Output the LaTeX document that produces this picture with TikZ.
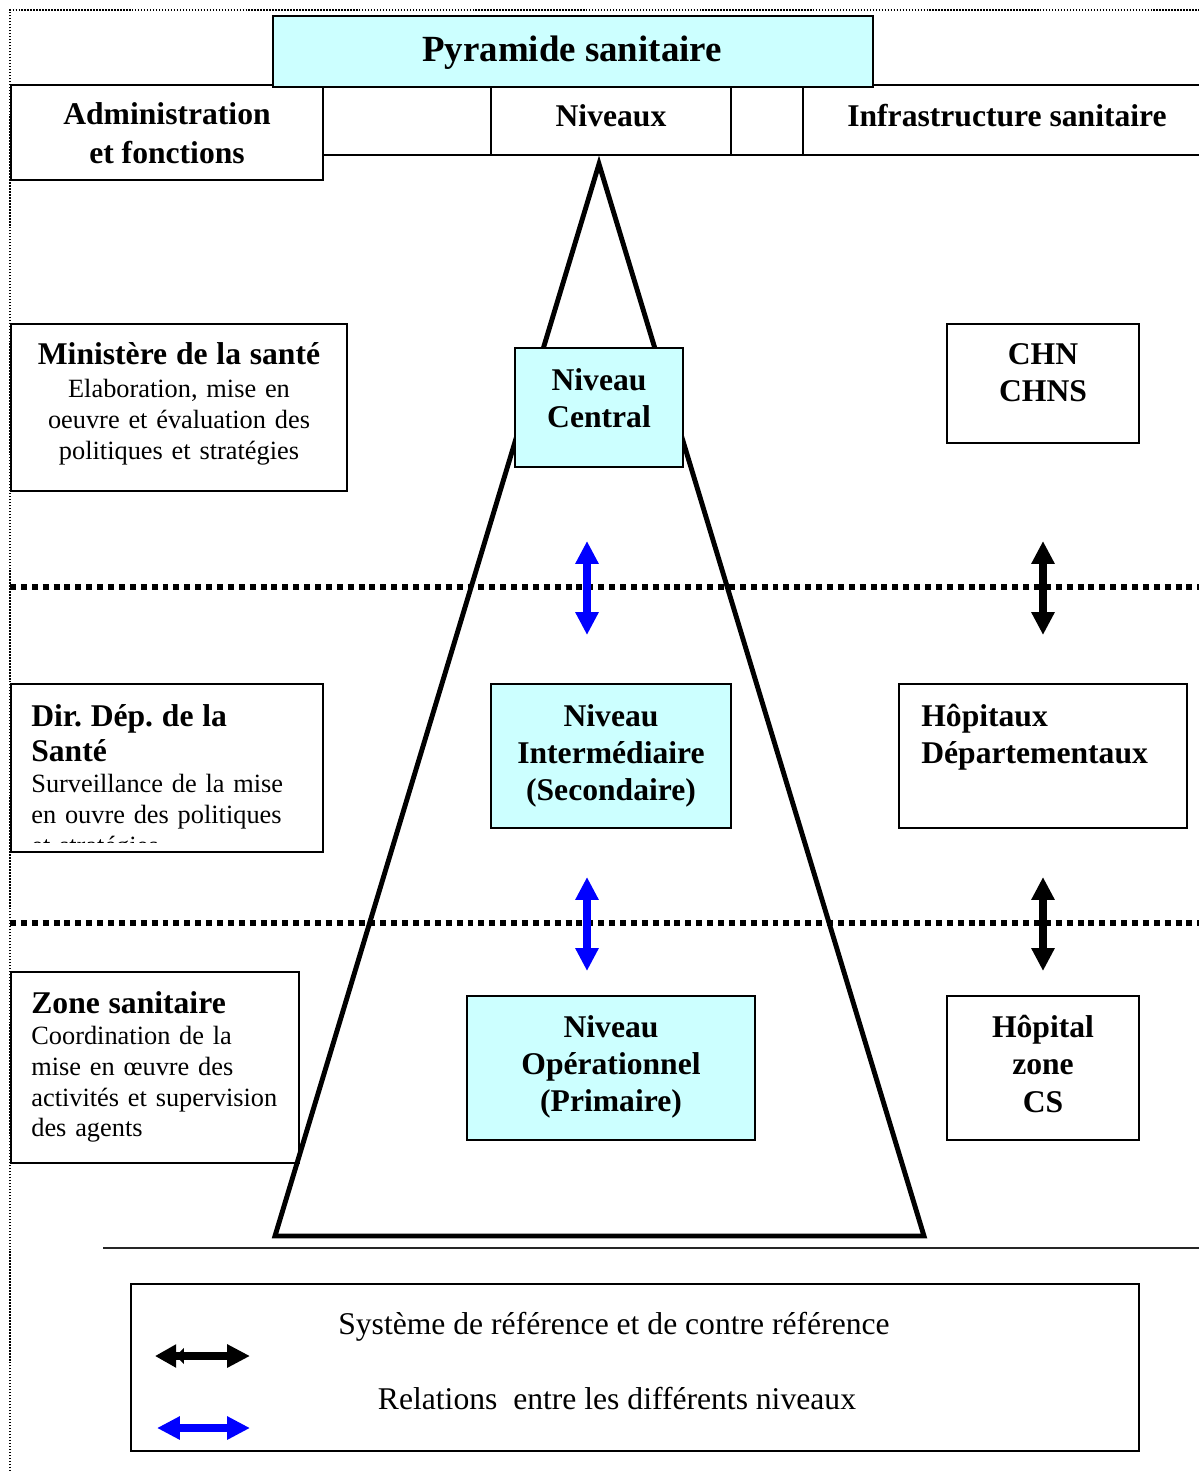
\documentclass[tikz,border=0pt]{standalone}
\usepackage{fontspec}
\setmainfont{Liberation Serif}
\usetikzlibrary{arrows.meta}
\frenchspacing
\definecolor{niveau}{RGB}{204,255,255}
\definecolor{bleurel}{RGB}{0,0,255}
\newcommand{\titrefont}{\fontsize{21}{24}\selectfont\bfseries}
\newcommand{\tetefont}{\fontsize{18}{21.2}\selectfont\bfseries}
\newcommand{\corpsfont}{\fontsize{15}{17.6}\selectfont}
\newcommand{\legfont}{\fontsize{18}{21}\selectfont}

\begin{document}
\begin{tikzpicture}[x=0.02cm, y=-0.02cm,
    cadre/.style={draw, line width=1.1pt},
    tete/.style={font=\tetefont, align=center, inner sep=0pt, anchor=north},
    bloc/.style={font=\corpsfont, align=left, inner sep=0pt, anchor=north west},
    pointille/.style={line width=3.4pt, dash pattern=on 3.4pt off 2.8pt},
    fleche/.style={line width=4.3pt, {Triangle[width=12.5pt,length=13pt]}-{Triangle[width=12.5pt,length=13pt]}}]

    \useasboundingbox (0,0) rectangle (1199,1471);

    % cadre pointille de la page
    \draw[line width=0.8pt, dash pattern=on 0.85pt off 0.85pt] (10,1471) -- (10,10) -- (1199,10);

    % separations des niveaux
    \draw[pointille] (10,587) -- (1199,587);
    \draw[pointille] (10,923) -- (1199,923);

    % en-tete
    \draw[cadre] (11,85) rectangle (323,180);
    \draw[cadre] (11,85) -- (1199,85);
    \draw[cadre] (323,155) -- (1199,155);
    \draw[cadre] (491,85) -- (491,155);
    \draw[cadre] (731,85) -- (731,155);
    \draw[cadre] (803,85) -- (803,155);
    \draw[cadre, fill=niveau] (273,16) rectangle (873,87);

    \node[font=\titrefont, inner sep=0pt, anchor=north] (titre) at (572,36) {Pyramide sanitaire};
    \node[tete] (admin) at (167,102) {Administration\\[1pt]et fonctions};
    \node[tete] (niveaux) at (611,104) {Niveaux};
    \node[tete] (infra) at (1007,104) {Infrastructure sanitaire};

    % la pyramide
    \draw[line width=2.8pt] (599,164) -- (924,1236) -- (275,1236) -- cycle;

    \draw[cadre, fill=niveau] (515,348) rectangle (683,467);
    \draw[cadre, fill=niveau] (491,684) rectangle (731,828);
    \draw[cadre, fill=niveau] (467,996) rectangle (755,1140);
    \node[tete] (central) at (599,368) {Niveau\\Central};
    \node[tete] (inter) at (611,704) {Niveau\\Interm\'ediaire\\(Secondaire)};
    \node[tete] (oper) at (611,1015) {Niveau\\Op\'erationnel\\(Primaire)};

    % administration
    \draw[cadre] (11,324) rectangle (347,491);
    \draw[cadre] (11,684) rectangle (323,852);
    \draw[cadre] (11,972) rectangle (299,1163);
    \node[font=\corpsfont, text width=6.4cm, align=center, inner sep=0pt, anchor=north] (ministere) at (179,342)
        {{\tetefont Minist\`ere de la sant\'e\par}\vspace{1.2pt}Elaboration, mise en\\oeuvre et \'evaluation des\\politiques et strat\'egies};
    \begin{scope}
        \clip (11,684) rectangle (323,842);
        \node[bloc, text width=5.8cm] (dds) at (31,704)
            {{\tetefont\fontsize{18}{19.8}\selectfont Dir. D\'ep. de la\\Sant\'e\par}\vspace{0.5pt}Surveillance de la mise\\en ouvre des politiques\\et strat\'egies};
    \end{scope}
    \node[bloc, text width=5.2cm] (zone) at (31,991)
        {{\tetefont Zone sanitaire\par}Coordination de la\\mise en \oe uvre des\\activit\'es et supervision\\des agents};

    % infrastructures
    \draw[cadre] (947,324) rectangle (1139,443);
    \draw[cadre] (899,684) rectangle (1187,828);
    \draw[cadre] (947,996) rectangle (1139,1140);
    \node[tete] (chn) at (1043,343) {CHN\\CHNS};
    \node[tete, anchor=north west, align=left] (hopdep) at (921,704) {H\^opitaux\\D\'epartementaux};
    \node[tete] (hopzone) at (1043,1015) {H\^opital\\zone\\CS};

    % relations et references
    \coordinate (rel1h) at (587,541);  \coordinate (rel1b) at (587,635);
    \coordinate (rel2h) at (587,877);  \coordinate (rel2b) at (587,971);
    \coordinate (ref1h) at (1043,541); \coordinate (ref1b) at (1043,635);
    \coordinate (ref2h) at (1043,877); \coordinate (ref2b) at (1043,971);
    \draw[fleche, bleurel] (rel1h) -- (rel1b);
    \draw[fleche, bleurel] (rel2h) -- (rel2b);
    \draw[fleche] (ref1h) -- (ref1b);
    \draw[fleche] (ref2h) -- (ref2b);

    % legende
    \draw[line width=1pt, black!85] (103,1248) -- (1199,1248);
    \draw[cadre] (131,1284) rectangle (1139,1451);
    \node[font=\legfont, inner sep=0pt, anchor=north] (legref) at (614,1312) {Syst\`eme de r\'ef\'erence et de contre r\'ef\'erence};
    \node[font=\legfont, inner sep=0pt, anchor=north] (legrel) at (617,1387) {Relations\ \ entre les diff\'erents niveaux};
    \coordinate (lrefg) at (155,1356); \coordinate (lrefd) at (250,1356);
    \coordinate (lrelg) at (157,1428); \coordinate (lreld) at (250,1428);
    \draw[line width=4.3pt, {Triangle[width=12.5pt,length=12pt] Triangle[width=9pt,length=4.5pt]}-{Triangle[width=12.5pt,length=13pt]}] (lrefg) -- (lrefd);
    \draw[fleche, bleurel] (lrelg) -- (lreld);

\end{tikzpicture}
\end{document}
